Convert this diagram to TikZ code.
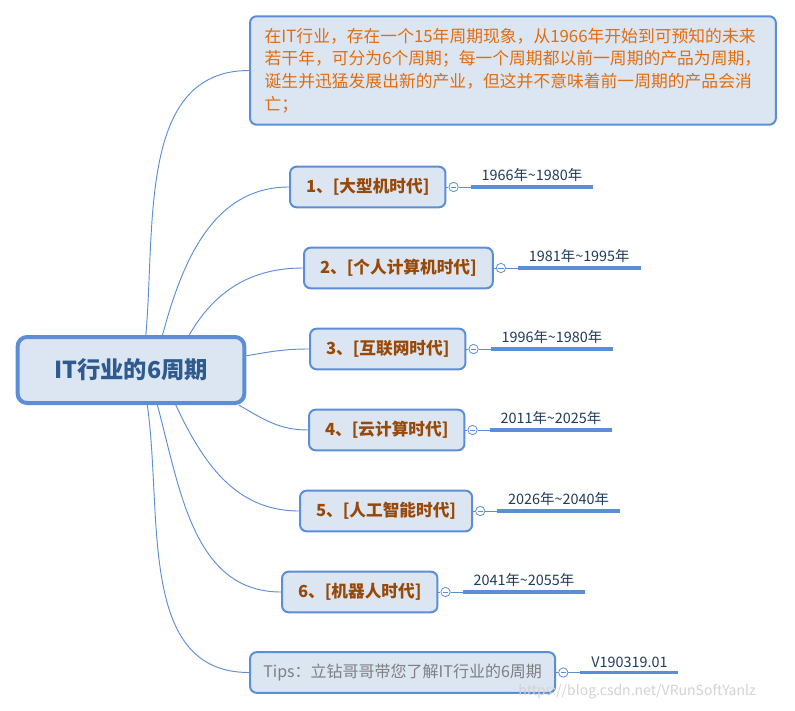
\documentclass[tikz,border=0pt]{standalone}
\usepackage{fontspec}
\setmainfont{Noto Sans CJK SC}
\usetikzlibrary{positioning}

\definecolor{boxfill}{HTML}{DCE6F2}
\definecolor{boxline}{HTML}{5B8ED6}
\definecolor{roottext}{HTML}{2F5A8E}
\definecolor{eratext}{HTML}{984807}
\definecolor{notetext}{HTML}{E46C0A}
\definecolor{tipstext}{HTML}{7F7F7F}
\definecolor{datetext}{HTML}{1F3B5C}

\begin{document}
\begin{tikzpicture}[
  x=0.75pt, y=-0.75pt,
  root/.style={draw=boxline, fill=boxfill, line width=3pt, rounded corners=7pt, minimum width=170pt, minimum height=49.5pt, font=\fontsize{17.5}{20}\selectfont\bfseries, text=roottext},
  topic/.style={draw=boxline, fill=boxfill, line width=1.5pt, rounded corners=5pt, minimum height=30.5pt, inner xsep=12pt, anchor=west, font=\fontsize{12.5}{14}\selectfont\bfseries, text=eratext},
  fold/.style={circle, draw=boxline, fill=white, line width=0.6pt, minimum size=7pt, inner sep=0pt,
    path picture={\draw[boxline, line width=0.5pt] ([xshift=1.5pt]path picture bounding box.west) -- ([xshift=-1.5pt]path picture bounding box.east);}},
  date/.style={anchor=south west, inner xsep=8pt, inner ysep=3.5pt, font=\fontsize{10.8}{12}\selectfont, text=datetext},
  dateline/.style={draw=boxline, line width=2.3pt},
  link/.style={draw=boxline, line width=0.7pt}
]
\useasboundingbox (0,0) rectangle (795,710);

% central topic and the note above
\node[root] (root) at (131,370) {IT行业的6周期};
\node[topic, font=\fontsize{12.6}{16.9}\selectfont, text=notetext, align=left, inner xsep=11pt, inner ysep=9pt] (note) at (249,70.5)
  {在IT行业，存在一个15年周期现象，从1966年开始到可预知的未来\\若干年，可分为6个周期；每一个周期都以前一周期的产品为周期，\\诞生并迅猛发展出新的产业，但这并不意味着前一周期的产品会消\\亡；};

% the six eras
\node[topic] (e1) at (289,187) {1、[大型机时代]};
\node[topic] (e2) at (303,268) {2、[个人计算机时代]};
\node[topic] (e3) at (309,349) {3、[互联网时代]};
\node[topic] (e4) at (308,430) {4、[云计算时代]};
\node[topic] (e5) at (299,511) {5、[人工智能时代]};
\node[topic] (e6) at (281,592) {6、[机器人时代]};
\node[topic, font=\fontsize{12}{15}\selectfont, text=tipstext, inner xsep=10pt] (tips) at (249,672.5) {Tips：立钻哥哥带您了解IT行业的6周期};

% fold marks and dates
\node[fold, right=1.5pt of e1] (f1) {};
\node[fold, right=1.5pt of e2] (f2) {};
\node[fold, right=1.5pt of e3] (f3) {};
\node[fold, right=1.5pt of e4] (f4) {};
\node[fold, right=1.5pt of e5] (f5) {};
\node[fold, right=1.5pt of e6] (f6) {};
\node[fold, right=1.5pt of tips] (f7) {};
\node[date, above right=0pt and 9pt of f1.east] (t1) {1966年\textasciitilde1980年};
\node[date, above right=0pt and 9pt of f2.east] (t2) {1981年\textasciitilde1995年};
\node[date, above right=0pt and 9pt of f3.east] (t3) {1996年\textasciitilde1980年};
\node[date, above right=0pt and 9pt of f4.east] (t4) {2011年\textasciitilde2025年};
\node[date, above right=0pt and 9pt of f5.east] (t5) {2026年\textasciitilde2040年};
\node[date, above right=0pt and 9pt of f6.east] (t6) {2041年\textasciitilde2055年};
\node[date, above right=0pt and 9pt of f7.east] (t7) {V190319.01};

\foreach \i/\e in {1/e1,2/e2,3/e3,4/e4,5/e5,6/e6,7/tips} {
  \draw[link] (\e.east) -- (f\i.west);
  \draw[link] (f\i.east) -- (t\i.south west);
  \draw[dateline] (t\i.south west) -- (t\i.south east);
}

% branches from the central topic
\draw[link] (root.67) to[out=85, in=180] (note.west);
\draw[link] (root.48) to[out=75, in=180] (e1.west);
\draw[link] (root.31) to[out=60, in=180] (e2.west);
\draw[link] (root.7) to[out=10, in=180] (e3.west);
\draw[link] (root.-18) to[out=-30, in=180] (e4.west);
\draw[link] (root.-38) to[out=-65, in=180] (e5.west);
\draw[link] (root.-53) to[out=-75, in=180] (e6.west);
\draw[link] (root.-65) to[out=-82, in=180] (tips.west);

\node[font=\fontsize{10.5}{12}\selectfont, text=gray!35] (wm) at (637,692) {https://blog.csdn.net/VRunSoftYanlz};
\end{tikzpicture}
\end{document}
